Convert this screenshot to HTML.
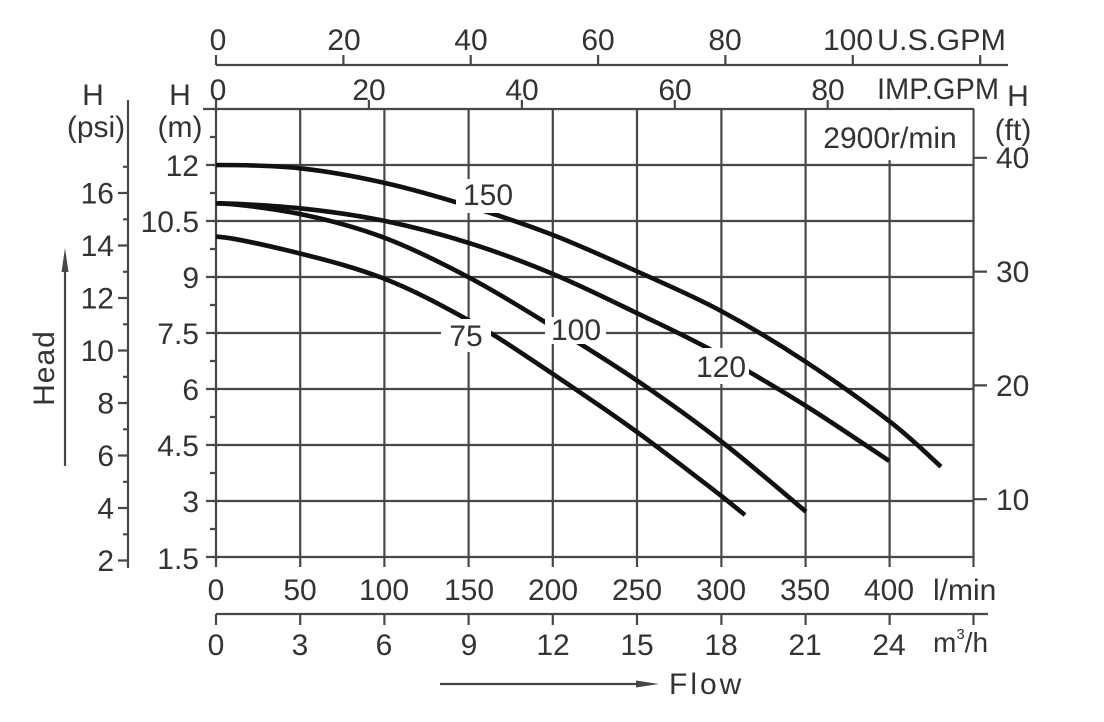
<!DOCTYPE html>
<html>
<head>
<meta charset="utf-8">
<style>
html,body{margin:0;padding:0;background:#fff;}
svg{display:block;}
text{font-family:"Liberation Sans",Arial,sans-serif;fill:#333;}
</style>
</head>
<body>
<svg width="1104" height="722" viewBox="0 0 1104 722" xmlns="http://www.w3.org/2000/svg">
<rect width="1104" height="722" fill="#fff"/>
<g stroke="#474747" stroke-width="2.2" fill="none">
<path d="M203 109H974M206 165H973M206 221H973M206 277H973M206 333H973M206 389H973M206 445H973M206 501H973M206 557H973"/>
<path d="M216 109V567M300.2 109V567M384.4 109V567M468.6 109V567M552.8 109V567M637 109V567M721.4 109V567M805.6 109V567M889.6 109V567M973.5 109V567"/>
<path d="M210 137h6M210 193h6M210 249h6M210 305h6M210 361h6M210 417h6M210 473h6M210 529h6"/>
<path d="M128 100V568M118 560.5h10M118 508h10M118 455.5h10M118 403h10M118 350.5h10M118 298h10M118 245.5h10M118 193h10"/>
<path d="M123 534.3h5M123 481.8h5M123 429.3h5M123 376.8h5M123 324.3h5M123 271.8h5M123 219.3h5M123 166.8h5"/>
<path d="M973 499.2h14M973 385.4h14M973 271.6h14M973 157.8h14"/>
<path d="M216 65H1008M216 55v10M343.4 55v10M470.7 55v10M598.1 55v10M725.4 55v10M852.8 55v10M980.2 55v10"/>
<path d="M216 100v9M368.9 100v9M521.9 100v9M674.8 100v9M827.7 100v9"/>
<path d="M216 614H988M216 614v11M300.2 614v11M384.4 614v11M468.6 614v11M552.8 614v11M637 614v11M721.4 614v11M805.6 614v11M889.6 614v11M973.5 614v11"/>
<path d="M65 466V266M440 684H640"/>
</g>
<polygon points="65,248 61.5,272 68.5,272" fill="#474747"/>
<polygon points="659,684 636,680.5 636,687.5" fill="#474747"/>
<rect x="807" y="110.2" width="165.4" height="50" fill="#fff"/>
<text x="890" y="148" font-size="30" text-anchor="middle">2900r/min</text>
<g stroke="#111" stroke-width="4.6" fill="none" stroke-linejoin="round">
<path d="M216,165 C230,165 271.8,165.3 300,168.3 C328.2,171.3 356.7,176.6 385,183 C413.3,189.4 442,197.8 470,206.5 C498,215.2 525,224.1 553,235 C581,245.9 609.5,258.9 637.7,271.7 C665.9,284.5 694,296.3 722,311.5 C750,326.7 778,343.5 806,362 C834,380.5 867.5,404.3 890,421.7 C912.5,439.1 932.5,459.2 941,466.7"/>
<path d="M216,203.3 C230,203.3 271.8,205.35 300,208.3 C328.2,211.25 356.7,215.2 385,221 C413.3,226.8 442,234.5 470,243.3 C498,252.1 525,262.3 553,274 C581,285.7 609.5,299.9 637.7,313.5 C665.9,327.1 694,339.8 722,356 C750,372.2 778.1,388.5 806,406 C833.9,423.5 875.4,451.8 889.3,461"/>
<path d="M216,203.3 C230,203.3 271.8,208.2 300,214 C328.2,219.8 356.7,227.3 385,238 C413.3,248.7 442,263.2 470,278 C498,292.8 525,309.8 553,327 C581,344.2 609.5,361.8 637.7,381 C665.9,400.2 694,420.2 722,442 C750,463.8 792,500.1 806,511.7"/>
<path d="M216,236.7 C230,237 271.8,246.5 300,253.5 C328.2,260.5 356.7,268 385,279 C413.3,290 442,305.4 470,321 C498,336.6 524.8,355.2 552.7,373.9 C580.6,392.6 609.1,411.8 637.3,432.2 C665.5,452.6 693.6,474.6 721.7,496.2 L745,515"/>
</g>
<g fill="#fff">
<rect x="456" y="179" width="58" height="34"/>
<rect x="545" y="317" width="61" height="27"/>
<rect x="441" y="319" width="50" height="33"/>
<rect x="697" y="348" width="52" height="36"/>
</g>
<g font-size="30" text-anchor="middle" style="fill:#111">
<text x="488" y="205">150</text>
<text x="576" y="340">100</text>
<text x="466" y="346">75</text>
<text x="721" y="377">120</text>
</g>
<g font-size="30" text-anchor="end">
<text x="114" y="571">2</text><text x="114" y="518.5">4</text><text x="114" y="466">6</text><text x="114" y="413.5">8</text>
<text x="114" y="361">10</text><text x="114" y="308.5">12</text><text x="114" y="256">14</text><text x="114" y="203.5">16</text>
<text x="199" y="176">12</text><text x="199" y="232">10.5</text><text x="199" y="288">9</text><text x="199" y="344">7.5</text>
<text x="199" y="400">6</text><text x="199" y="456">4.5</text><text x="199" y="512">3</text><text x="199" y="569">1.5</text>
</g>
<g font-size="30">
<text x="996" y="510">10</text><text x="996" y="396">20</text><text x="996" y="282">30</text><text x="996" y="168">40</text>
</g>
<g font-size="30" text-anchor="middle">
<text x="93" y="105">H</text><text x="96" y="137">(psi)</text>
<text x="180" y="105">H</text><text x="180" y="137">(m)</text>
<text x="1018" y="106">H</text><text x="1013" y="140">(ft)</text>
</g>
<text x="0" y="0" font-size="30" text-anchor="middle" letter-spacing="1" transform="translate(54,368) rotate(-90)">Head</text>
<g font-size="30" text-anchor="middle">
<text x="218" y="50">0</text><text x="344" y="50">20</text><text x="471" y="50">40</text>
<text x="598" y="50">60</text><text x="725" y="50">80</text><text x="848" y="50">100</text>
<text x="218" y="100">0</text><text x="369" y="100">20</text><text x="522" y="100">40</text>
<text x="675" y="100">60</text><text x="828" y="100">80</text>
</g>
<text x="877" y="50" font-size="30" textLength="129" lengthAdjust="spacingAndGlyphs">U.S.GPM</text>
<text x="877" y="99" font-size="30" textLength="122" lengthAdjust="spacingAndGlyphs">IMP.GPM</text>
<g font-size="30" text-anchor="middle">
<text x="216" y="600">0</text><text x="300" y="600">50</text><text x="384" y="600">100</text>
<text x="469" y="600">150</text><text x="553" y="600">200</text><text x="637" y="600">250</text>
<text x="721" y="600">300</text><text x="805" y="600">350</text><text x="889" y="600">400</text>
<text x="216" y="655">0</text><text x="300" y="655">3</text><text x="384" y="655">6</text>
<text x="469" y="655">9</text><text x="553" y="655">12</text><text x="637" y="655">15</text>
<text x="721" y="655">18</text><text x="805" y="655">21</text><text x="889" y="655">24</text>
</g>
<text x="933" y="600" font-size="30">l/min</text>
<text x="933" y="652" font-size="28">m<tspan font-size="15" dy="-13">3</tspan><tspan dy="13">/h</tspan></text>
<text x="669" y="694" font-size="30" letter-spacing="3">Flow</text>
</svg>
</body>
</html>
